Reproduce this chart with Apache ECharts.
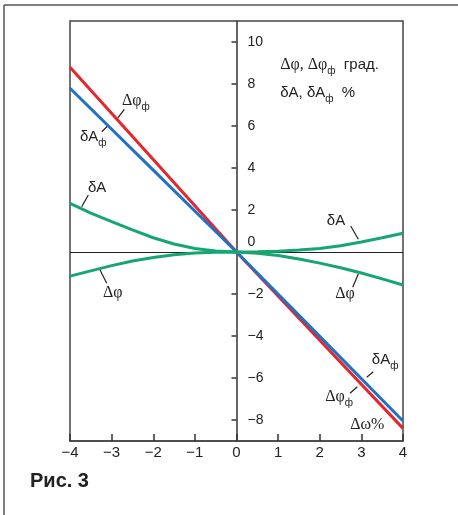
<!DOCTYPE html>
<html><head><meta charset="utf-8">
<script src="https://cdn.jsdelivr.net/npm/echarts@6/dist/echarts.min.js"></script>
<style>html,body{margin:0;padding:0;background:#fff}#c{width:458px;height:515px}</style>
</head><body><div id="c"></div>
<script>
// straight-line series (read at x = -4,-2,0,2,4)
const xLin = [-4, -2, 0, 2, 4];
const dPhiF = [8.8, 4.4, 0, -4.2, -8.4];       // Δφф (red)
const dAF   = [7.8, 3.9, 0, -4.02, -8.05];     // δAф (blue)
// curved series
const xCur = [-4,-3.5,-3,-2.5,-2,-1.5,-1,-0.5,0,0.5,1,1.5,2,2.5,3,3.5,4];
const dA   = [2.32,1.85,1.45,1.05,0.68,0.38,0.17,0.05,0,0.01,0.04,0.1,0.17,0.3,0.48,0.68,0.89];
const dPhi = [-1.15,-0.9,-0.65,-0.43,-0.26,-0.13,-0.05,-0.01,0,-0.06,-0.17,-0.33,-0.53,-0.75,-1.0,-1.28,-1.57];
const yTicks = [-8,-6,-4,-2,0,2,4,6,8,10];
const caption = 'Рис. 3';

// annotation texts (data coords: left edge, vertical centre)
const labels = [
  {t:'{g|Δφ}{sub|ф}', x:-2.75, y:7.19},
  {t:'{s|δA}{sub|ф}', x:-3.76, y:5.48},
  {t:'{s|δA}', x:-3.57, y:3.05},
  {t:'{g|Δφ}', x:-3.21, y:-1.95},
  {t:'{s|δA}', x:2.17, y:1.48},
  {t:'{g|Δφ}', x:2.37, y:-2.0},
  {t:'{s|δA}{sub|ф}', x:3.25, y:-5.14},
  {t:'{g|Δφ}{sub|ф}', x:2.13, y:-6.9},
  {t:'{g|Δω%}', x:2.73, y:-8.24},
  {t:'{g|Δφ, Δφ}{sub|ф}{s|  град.}', x:1.05, y:8.9},
  {t:'{s|δA, δA}{sub|ф}{s|  %}', x:1.05, y:7.57}
];
const leaders = [
  [[-2.695,6.795],[-2.864,6.348]],
  [[-3.238,5.729],[-3.094,6.0]],
  [[-3.56,2.714],[-3.719,2.157]],
  [[-3.279,-0.857],[-3.118,-1.49]],
  [[2.744,1.238],[2.926,0.605]],
  [[2.926,-1.048],[2.792,-1.681]],
  [[3.287,-5.7],[3.128,-5.967]],
  [[2.727,-6.729],[2.902,-6.414]]
];

const RED='#e6262c', BLUE='#1f72c6', GREEN='#17a672', INK='#222';
const minus = v => String(v).replace('-', '\u2212');
const pair = (xs, ys) => xs.map((x,i)=>[x, ys[i]]);
const X_MIN = -4, X_MAX = 4;
const G = {left:70, right:55, top:21, bottom:74};
const gridW = 458 - G.left - G.right;
const yAxisOffset = -gridW * (0 - X_MIN) / (X_MAX - X_MIN);

const chart = echarts.init(document.getElementById('c'));
const lineS = (name, data, color, extra) => Object.assign({
  type:'line', name, data, showSymbol:false, symbol:'none', z:2,
  lineStyle:{color, width:3}, itemStyle:{color}, smooth:false, silent:true, animation:false
}, extra||{});

chart.setOption({
  animation:false,
  grid:Object.assign({show:true, borderColor:'#444', borderWidth:1.5, backgroundColor:'transparent'}, G),
  xAxis:{type:'value', min:X_MIN, max:X_MAX, interval:1,
    axisLine:{onZero:false, lineStyle:{color:'#444', width:1.5}},
    axisTick:{inside:true, length:7, lineStyle:{color:'#333', width:1.5}},
    axisLabel:{margin:4, fontSize:15, color:INK, fontFamily:'Liberation Sans, Arial, sans-serif', formatter:minus},
    splitLine:{show:false}},
  yAxis:{type:'value', min:-9, max:11, position:'left', offset:yAxisOffset,
    axisLine:{onZero:false, lineStyle:{color:'#333', width:1.5}},
    axisTick:{show:true, inside:false, length:5, customValues:yTicks, lineStyle:{color:'#333', width:1.5}},
    axisLabel:{inside:true, margin:11, fontSize:14, color:INK, customValues:yTicks,
      fontFamily:'Liberation Sans, Arial, sans-serif',
      formatter: v => v===0 ? '{z|0}' : minus(v),
      rich:{z:{fontSize:14, color:INK, padding:[0,0,20,0], fontFamily:'Liberation Sans, Arial, sans-serif'}}},
    splitLine:{show:false}},
  series:[
    lineS('zero', [], INK, {z:1, markLine:{silent:true, symbol:['none','none'], z:1, animation:false,
      label:{show:false}, lineStyle:{color:INK, width:1, type:'solid'}, data:[{yAxis:0}]}}),
    lineS('dPhiF', pair(xLin, dPhiF), RED),
    lineS('dAF', pair(xLin, dAF), BLUE),
    lineS('dA', pair(xCur, dA), GREEN),
    lineS('dPhi', pair(xCur, dPhi), GREEN)
  ]
});

const rich = {
  g:{fontFamily:'Liberation Serif, Times New Roman, serif', fontSize:16, lineHeight:22, verticalAlign:'middle', fill:INK, color:INK},
  s:{fontFamily:'Liberation Sans, Arial, sans-serif', fontSize:15, lineHeight:22, verticalAlign:'middle', fill:INK, color:INK},
  sub:{fontFamily:'Liberation Sans, Arial, sans-serif', fontSize:10, lineHeight:10, verticalAlign:'bottom', fill:INK, color:INK}
};
const px = p => chart.convertToPixel({gridIndex:0}, p);
const els = [];
labels.forEach(l => {
  const p = px([l.x, l.y]);
  els.push({type:'text', x:p[0], y:p[1], silent:true,
    style:{text:l.t, rich, align:'left', verticalAlign:'middle', textAlign:'left', textVerticalAlign:'middle', fill:INK}});
});
leaders.forEach(s => {
  const a = px(s[0]), b = px(s[1]);
  els.push({type:'line', silent:true, shape:{x1:a[0], y1:a[1], x2:b[0], y2:b[1]}, style:{stroke:INK, lineWidth:1.2}});
});
// page frame
els.push({type:'line', silent:true, shape:{x1:4, y1:5, x2:4, y2:515}, style:{stroke:'#555', lineWidth:1.5}});
els.push({type:'line', silent:true, shape:{x1:4, y1:5, x2:458, y2:5}, style:{stroke:'#555', lineWidth:1.5}});
els.push({type:'text', left:30, top:471, silent:true,
  style:{text:caption, font:'bold 20px "Liberation Sans", Arial, sans-serif', fill:'#222'}});
chart.setOption({graphic:{elements:els}});
</script></body></html>
